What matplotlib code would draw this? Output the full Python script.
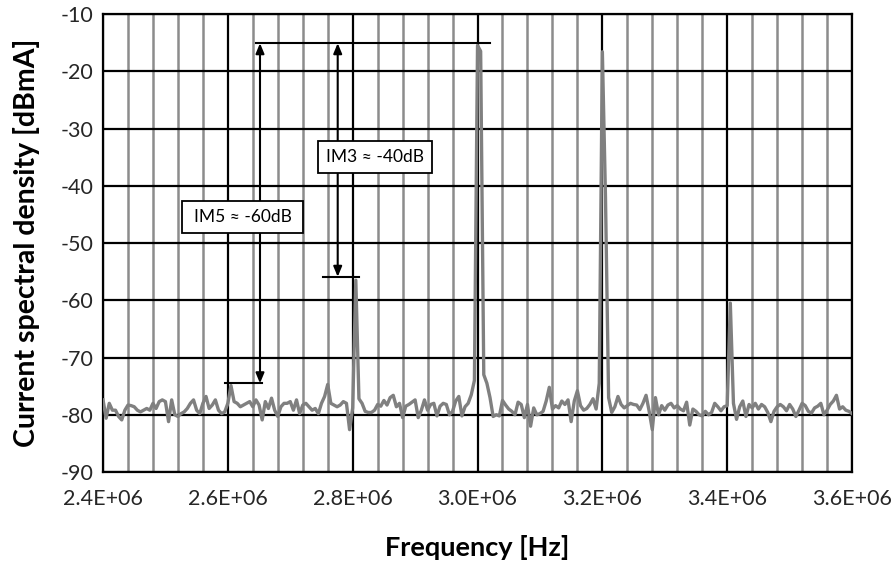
import numpy as np
import matplotlib
matplotlib.use("Agg")
import matplotlib.pyplot as plt
import matplotlib.ticker as ticker
from matplotlib.patches import Rectangle

plt.rcParams['font.family'] = ['Lato', 'DejaVu Sans']
plt.rcParams['axes.unicode_minus'] = False

# frequency bins (Hz): 2.4 MHz .. 3.6 MHz, 5 kHz step
f_start = 2.4e6
f_step = 5e3

# current spectral density [dBmA]
level = [
    -77.4, -80.6, -78.0, -79.2, -79.2, -80.3, -80.9, -79.2, -78.3, -78.4,
    -78.6, -79.2, -79.5, -79.2, -78.9, -79.2, -78.0, -78.9, -77.7, -77.4,
    -77.7, -81.2, -77.4, -80.0, -80.3, -79.8, -79.5, -78.9, -78.0, -77.4,
    -79.2, -79.8, -78.0, -76.8, -78.9, -78.3, -77.4, -79.2, -79.8, -79.5,
    -78.0, -74.9, -77.7, -78.0, -78.6, -78.3, -78.0, -77.7, -78.6, -77.4,
    -78.3, -80.9, -77.7, -78.9, -77.1, -79.2, -80.3, -78.6, -78.0, -78.0,
    -77.7, -79.2, -77.4, -79.8, -78.3, -78.0, -78.6, -79.2, -78.9, -79.8,
    -78.0, -76.8, -74.7, -78.0, -78.3, -78.6, -78.3, -77.7, -78.0, -82.6,
    -78.8, -56.5, -77.2, -78.0, -79.4, -79.6, -79.6, -79.2, -78.2, -78.5,
    -77.5, -78.3, -77.0, -76.6, -78.6, -78.0, -80.5, -78.5, -78.2, -77.8,
    -77.4, -80.5, -79.2, -77.4, -79.2, -78.2, -78.0, -80.2, -78.5, -78.0,
    -78.2, -80.0, -79.4, -77.6, -76.8, -80.2, -78.6, -78.0, -76.5, -74.0,
    -15.5, -16.5, -73.0, -74.5, -77.0, -80.3, -80.0, -80.2, -77.5, -78.3,
    -79.0, -79.4, -80.0, -77.8, -78.2, -80.5, -78.2, -82.0, -78.8, -80.0,
    -79.8, -79.4, -77.6, -75.2, -79.0, -78.4, -78.8, -77.6, -78.2, -77.4,
    -81.2, -77.6, -75.8, -78.4, -79.2, -78.9, -78.2, -77.2, -79.0, -74.5,
    -16.6, -42.0, -77.0, -79.6, -78.6, -76.8, -78.2, -78.8, -78.4, -78.0,
    -78.2, -78.3, -79.1, -78.0, -76.6, -79.4, -82.6, -77.0, -80.0, -78.4,
    -79.2, -78.3, -78.0, -78.8, -78.4, -79.0, -79.3, -77.8, -81.8, -79.0,
    -79.4, -80.0, -80.2, -79.4, -80.0, -79.6, -78.0, -78.6, -79.3, -78.6,
    -78.4, -60.5, -78.0, -80.8, -78.6, -77.6, -80.3, -78.2, -78.8, -78.0,
    -79.0, -78.2, -78.6, -79.6, -81.2, -79.4, -78.6, -78.2, -78.6, -79.3,
    -78.2, -79.0, -80.3, -79.2, -78.0, -78.4, -79.4, -79.7, -78.8, -78.5,
    -78.0, -80.0, -79.2, -78.2, -77.6, -76.6, -79.0, -78.6, -79.2, -79.4, -79.8,
]
freq = f_start + f_step * np.arange(len(level))

# annotation geometry (data units)
top_level = -15.1
top_x = [2.645e6, 3.020e6]
im5_x = 2.6515e6
im5_low = -74.5
im5_seg = [2.5955e6, 2.6547e6]
im3_x = 2.776e6
im3_low = -55.9
im3_seg = [2.752e6, 2.8106e6]

fig = plt.figure(figsize=(8.95, 5.67), dpi=100)
ax = fig.add_axes([0.1151, 0.1675, 0.8369, 0.8078])

ax.plot(freq, level, color='#808080', lw=2.4, zorder=3)

ax.set_xlim(2.4e6, 3.6e6)
ax.set_ylim(-90, -10)
ax.xaxis.set_major_locator(ticker.MultipleLocator(2e5))
ax.xaxis.set_minor_locator(ticker.MultipleLocator(4e4))
ax.yaxis.set_major_locator(ticker.MultipleLocator(10))
ax.xaxis.set_major_formatter(ticker.FuncFormatter(lambda v, p: f"{v:.1E}"))

ax.grid(which='minor', axis='x', color='#8c8c8c', lw=1.8, zorder=1)
ax.grid(which='major', axis='both', color='black', lw=1.6, zorder=2)
ax.set_axisbelow(True)
for s in ax.spines.values():
    s.set_color('black')
    s.set_linewidth(1.6)

ax.tick_params(which='both', length=0, labelsize=15.5, colors='#262626')
ax.tick_params(axis='x', pad=12)
ax.tick_params(axis='y', pad=7)

ax.set_xlabel('Frequency [Hz]', fontsize=19.5, fontweight='bold', labelpad=19)
ax.set_ylabel('Current spectral density [dBmA]', fontsize=20.5, fontweight='bold', labelpad=15)

# annotations
ax.plot(top_x, [top_level, top_level], color='black', lw=1.5, zorder=4)
ax.plot(im5_seg, [im5_low, im5_low], color='black', lw=1.5, zorder=4)
ax.plot(im3_seg, [im3_low, im3_low], color='black', lw=1.5, zorder=4)
arw = dict(arrowstyle='<|-|>,head_length=0.6,head_width=0.25', color='black',
           lw=1.5, shrinkA=0, shrinkB=0)
ax.annotate('', xy=(im5_x, im5_low), xytext=(im5_x, top_level), arrowprops=arw, zorder=4)
ax.annotate('', xy=(im3_x, im3_low), xytext=(im3_x, top_level), arrowprops=arw, zorder=4)

ax.add_patch(Rectangle((2.7447e6, -37.83), 0.1822e6, 5.65, facecolor='white',
                       edgecolor='black', lw=1.3, zorder=5))
ax.text(2.8358e6, -35.0, 'IM3 \u2248 -40dB', ha='center', va='center', fontsize=12.5, zorder=6)
ax.add_patch(Rectangle((2.5261e6, -48.3), 0.1948e6, 5.64, facecolor='white',
                       edgecolor='black', lw=1.3, zorder=5))
ax.text(2.6235e6, -45.5, 'IM5 \u2248 -60dB', ha='center', va='center', fontsize=12.5, zorder=6)

fig.savefig('out.png', dpi=100)
